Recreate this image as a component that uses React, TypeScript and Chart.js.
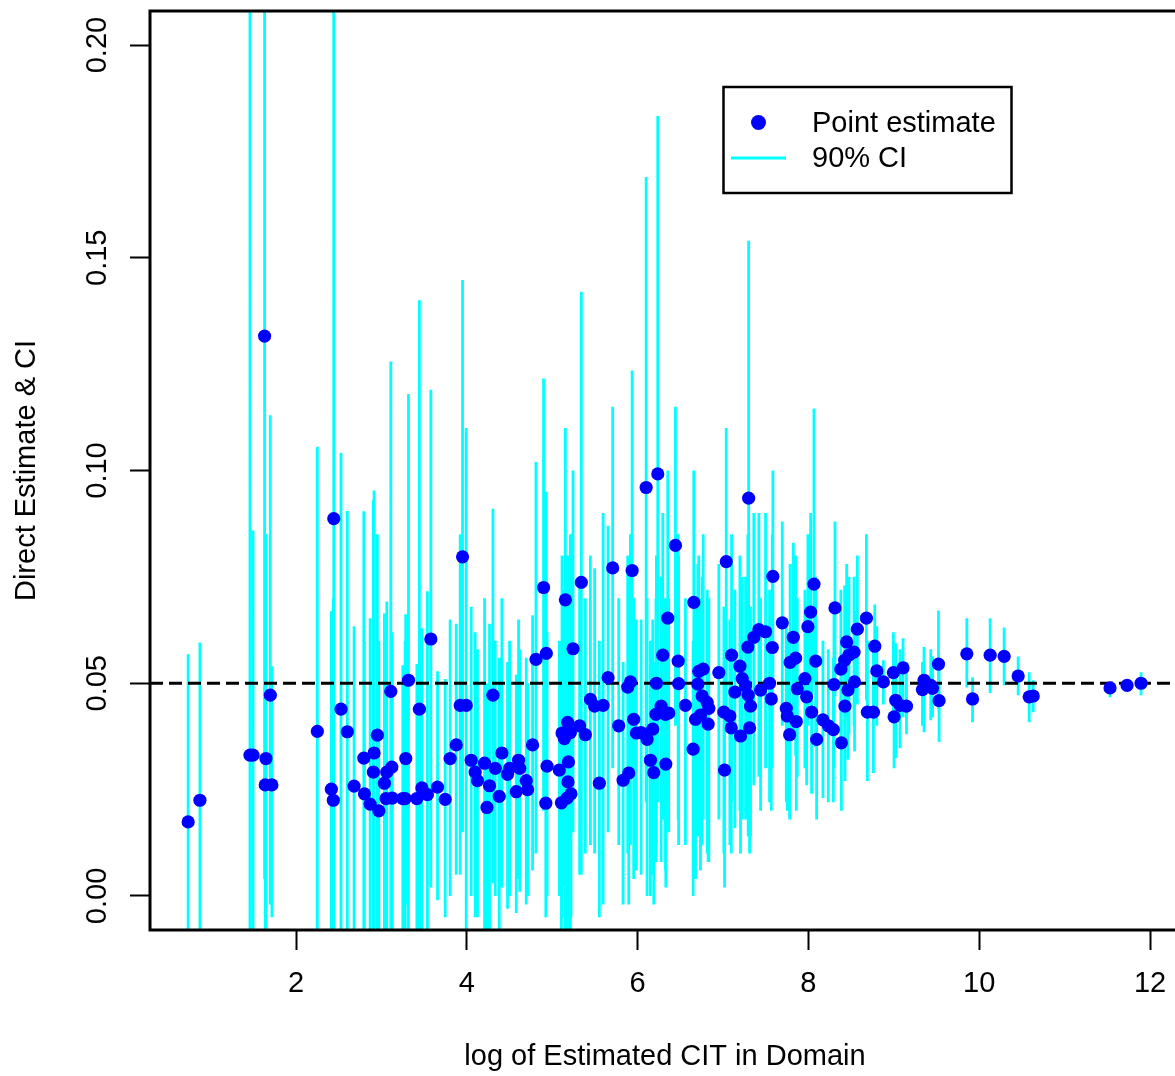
import React, { useEffect, useRef } from 'react';
import { Chart, registerables } from 'chart.js';

Chart.register(...registerables);

// ---- data ----
const logCIT = [
  0.737, 0.875, 1.461, 1.497, 1.632, 1.648, 1.699, 1.640, 1.718, 2.250,
  2.442, 2.414, 2.437, 2.527, 2.601, 2.680, 2.794, 2.801, 2.868, 2.906,
  2.914, 2.953, 2.970, 3.035, 3.063, 3.122, 3.110, 3.055, 3.128, 3.251,
  3.278, 3.285, 3.317, 3.445, 3.415, 3.474, 3.539, 3.579, 3.657, 3.747,
  3.805, 3.876, 3.950, 3.923, 3.993, 4.051, 4.098, 4.125, 4.208, 4.236,
  4.266, 4.306, 4.333, 4.380, 4.411, 4.477, 4.501, 4.579, 4.606, 4.620,
  4.696, 4.712, 4.770, 4.810, 4.899, 4.931, 4.940, 4.925, 5.083, 5.115,
  5.142, 5.154, 5.181, 5.213, 5.190, 5.185, 5.108, 5.174, 5.220, 5.244,
  5.321, 5.341, 5.388, 5.447, 5.497, 5.596, 5.552, 5.654, 5.708, 5.779,
  5.830, 5.896, 5.884, 5.916, 5.936, 5.954, 5.986, 6.041, 6.100, 6.111,
  6.150, 6.189, 6.177, 6.220, 6.236, 6.215, 6.275, 6.326, 6.295, 6.353,
  6.330, 6.443, 6.475, 6.480, 6.560, 6.658, 6.650, 6.716, 6.768, 6.705,
  6.756, 6.815, 6.834, 6.736, 6.678, 6.826, 6.951, 7.038, 7.018, 7.010,
  7.080, 7.097, 7.100, 7.198, 7.139, 7.205, 7.225, 7.264, 7.295, 7.322,
  7.311, 7.300, 7.291, 7.361, 7.420, 7.498, 7.440, 7.545, 7.565, 7.577,
  7.584, 7.694, 7.741, 7.753, 7.858, 7.780, 7.786, 7.850, 7.823, 7.870,
  7.959, 7.979, 7.994, 8.026, 8.065, 8.085, 8.037, 8.096, 8.170, 8.233,
  8.292, 8.311, 8.299, 8.386, 8.428, 8.448, 8.380, 8.424, 8.475, 8.534,
  8.463, 8.540, 8.573, 8.679, 8.691, 8.761, 8.777, 8.801, 8.878, 8.995,
  9.108, 9.022, 9.148, 9.073, 9.003, 9.354, 9.335, 9.433, 9.453, 9.523,
  9.530, 9.855, 9.922, 10.128, 10.292, 10.456, 10.585, 10.632, 11.532, 11.731,
  11.895, 6.364,
];

const estimate = [
  0.0174, 0.0225, 0.0331, 0.0331, 0.1316, 0.0323, 0.0472, 0.0261, 0.0261, 0.0387,
  0.0887, 0.0251, 0.0225, 0.0439, 0.0386, 0.0258, 0.0324, 0.0240, 0.0216, 0.0291,
  0.0336, 0.0378, 0.0200, 0.0265, 0.0291, 0.0303, 0.0481, 0.0229, 0.0230, 0.0229,
  0.0229, 0.0323, 0.0507, 0.0439, 0.0229, 0.0254, 0.0238, 0.0604, 0.0256, 0.0227,
  0.0323, 0.0355, 0.0797, 0.0448, 0.0448, 0.0319, 0.0291, 0.0271, 0.0312, 0.0208,
  0.0259, 0.0472, 0.0300, 0.0234, 0.0336, 0.0286, 0.0300, 0.0245, 0.0319, 0.0300,
  0.0271, 0.0250, 0.0355, 0.0556, 0.0725, 0.0570, 0.0305, 0.0218, 0.0296, 0.0383,
  0.0370, 0.0696, 0.0408, 0.0384, 0.0315, 0.0268, 0.0219, 0.0230, 0.0240, 0.0581,
  0.0400, 0.0737, 0.0379, 0.0462, 0.0446, 0.0448, 0.0265, 0.0513, 0.0771, 0.0400,
  0.0272, 0.0289, 0.0491, 0.0503, 0.0765, 0.0415, 0.0383, 0.0384, 0.0960, 0.0368,
  0.0319, 0.0290, 0.0392, 0.0500, 0.0992, 0.0427, 0.0446, 0.0427, 0.0566, 0.0653,
  0.0310, 0.0824, 0.0552, 0.0499, 0.0448, 0.0690, 0.0345, 0.0528, 0.0533, 0.0498,
  0.0470, 0.0455, 0.0441, 0.0425, 0.0415, 0.0404, 0.0525, 0.0786, 0.0296, 0.0432,
  0.0423, 0.0395, 0.0566, 0.0540, 0.0479, 0.0376, 0.0511, 0.0494, 0.0472, 0.0446,
  0.0395, 0.0935, 0.0585, 0.0608, 0.0626, 0.0621, 0.0484, 0.0500, 0.0463, 0.0584,
  0.0751, 0.0642, 0.0441, 0.0423, 0.0410, 0.0379, 0.0549, 0.0559, 0.0608, 0.0487,
  0.0511, 0.0468, 0.0633, 0.0667, 0.0733, 0.0552, 0.0432, 0.0368, 0.0414, 0.0400,
  0.0391, 0.0677, 0.0497, 0.0360, 0.0446, 0.0597, 0.0533, 0.0554, 0.0566, 0.0573,
  0.0484, 0.0503, 0.0627, 0.0653, 0.0432, 0.0432, 0.0587, 0.0529, 0.0503, 0.0525,
  0.0536, 0.0460, 0.0446, 0.0448, 0.0421, 0.0507, 0.0485, 0.0495, 0.0488, 0.0545,
  0.0459, 0.0569, 0.0463, 0.0566, 0.0563, 0.0517, 0.0468, 0.0470, 0.0489, 0.0495,
  0.0500, 0.0430,
];

const ciLower = [
  -0.022, -0.015, -0.100, -0.020, 0.004, -0.020, -0.002, -0.020, -0.005, -0.030,
  -0.020, -0.020, -0.020, -0.020, -0.015, -0.012, -0.025, -0.015, -0.020, -0.030,
  -0.030, -0.010, -0.020, -0.013, -0.011, -0.005, -0.030, -0.010, -0.012, -0.008,
  -0.014, -0.002, -0.015, -0.030, -0.010, -0.010, -0.015, 0.002, -0.001, -0.005,
  0.000, 0.005, 0.015, 0.005, -0.010, 0.000, -0.005, -0.005, -0.008, -0.010,
  -0.008, 0.003, 0.000, -0.008, 0.002, -0.003, 0.000, -0.004, 0.004, 0.001,
  -0.002, 0.000, 0.006, 0.010, 0.020, 0.018, 0.000, -0.005, 0.000, -0.005,
  0.002, -0.010, -0.010, -0.010, -0.010, -0.010, -0.010, -0.008, -0.005, 0.015,
  0.005, 0.005, 0.010, 0.012, 0.010, -0.002, -0.005, 0.015, 0.030, 0.012,
  -0.002, -0.002, 0.010, 0.012, 0.028, 0.004, 0.006, 0.005, 0.022, 0.000,
  0.000, -0.002, 0.005, 0.012, 0.022, 0.008, 0.008, 0.006, 0.018, 0.022,
  0.002, 0.040, 0.018, 0.012, 0.012, 0.030, 0.000, 0.016, 0.018, 0.014,
  0.012, 0.010, 0.008, 0.006, 0.004, 0.008, 0.018, 0.040, 0.002, 0.010,
  0.012, 0.010, 0.022, 0.020, 0.016, 0.010, 0.018, 0.018, 0.014, 0.014,
  0.010, 0.032, 0.024, 0.026, 0.028, 0.030, 0.020, 0.022, 0.020, 0.030,
  0.050, 0.040, 0.022, 0.020, 0.020, 0.018, 0.032, 0.033, 0.038, 0.028,
  0.030, 0.026, 0.040, 0.045, 0.050, 0.035, 0.024, 0.018, 0.023, 0.022,
  0.022, 0.047, 0.030, 0.020, 0.027, 0.042, 0.035, 0.037, 0.038, 0.040,
  0.032, 0.034, 0.045, 0.046, 0.027, 0.0289, 0.045, 0.040, 0.045, 0.043,
  0.042, 0.0324, 0.038, 0.0347, 0.030, 0.0385, 0.040, 0.0413, 0.042, 0.044,
  0.0362, 0.049, 0.0408, 0.0477, 0.0495, 0.0472, 0.0408, 0.0432, 0.0467, 0.0480,
  0.0472, 0.015,
];

const ciUpper = [
  0.0568, 0.0596, 0.300, 0.0859, 0.300, 0.085, 0.113, 0.070, 0.054, 0.1056,
  0.300, 0.0669, 0.070, 0.1042, 0.0905, 0.0634, 0.0904, 0.060, 0.0653, 0.093,
  0.0953, 0.085, 0.060, 0.0664, 0.0692, 0.062, 0.1256, 0.055, 0.058, 0.0542,
  0.060, 0.0662, 0.118, 0.140, 0.0545, 0.0629, 0.0716, 0.119, 0.0528, 0.051,
  0.065, 0.064, 0.1448, 0.085, 0.110, 0.068, 0.062, 0.058, 0.070, 0.050,
  0.064, 0.091, 0.060, 0.056, 0.070, 0.055, 0.060, 0.052, 0.065, 0.058,
  0.056, 0.050, 0.066, 0.102, 0.1216, 0.095, 0.062, 0.048, 0.060, 0.080,
  0.072, 0.110, 0.080, 0.085, 0.065, 0.060, 0.050, 0.055, 0.058, 0.100,
  0.075, 0.142, 0.070, 0.080, 0.077, 0.090, 0.060, 0.087, 0.115, 0.070,
  0.055, 0.060, 0.080, 0.085, 0.1235, 0.070, 0.065, 0.065, 0.169, 0.070,
  0.060, 0.055, 0.065, 0.080, 0.1833, 0.070, 0.075, 0.070, 0.090, 0.100,
  0.055, 0.115, 0.085, 0.080, 0.070, 0.100, 0.060, 0.080, 0.085, 0.078,
  0.075, 0.072, 0.070, 0.070, 0.068, 0.065, 0.078, 0.110, 0.050, 0.068,
  0.065, 0.062, 0.085, 0.080, 0.072, 0.060, 0.075, 0.075, 0.072, 0.068,
  0.060, 0.154, 0.085, 0.090, 0.090, 0.090, 0.070, 0.072, 0.068, 0.085,
  0.100, 0.088, 0.065, 0.062, 0.060, 0.058, 0.078, 0.080, 0.083, 0.070,
  0.072, 0.068, 0.085, 0.090, 0.1146, 0.075, 0.062, 0.055, 0.060, 0.058,
  0.056, 0.088, 0.068, 0.052, 0.062, 0.078, 0.072, 0.073, 0.075, 0.075,
  0.065, 0.067, 0.080, 0.085, 0.060, 0.058, 0.0685, 0.0634, 0.0554, 0.062,
  0.0606, 0.0594, 0.055, 0.058, 0.055, 0.0585, 0.055, 0.058, 0.0563, 0.0671,
  0.055, 0.0653, 0.0514, 0.0653, 0.0631, 0.0563, 0.0526, 0.0507, 0.0502, 0.0505,
  0.0526, 0.070,
];

const TARGET = 0.05;
const X_TICKS = [2, 4, 6, 8, 10, 12];
const Y_TICKS = [0, 0.05, 0.1, 0.15, 0.2];
const Y_TICK_LABELS = ['0.00', '0.05', '0.10', '0.15', '0.20'];
const X_MIN = 0.2904;
const X_MAX = 12.351;
const Y_MIN = -0.008;
const Y_MAX = 0.208;

const X_TITLE = 'log of Estimated CIT in Domain';
const Y_TITLE = 'Direct Estimate & CI';
const LEGEND_POINT = 'Point estimate';
const LEGEND_CI = '90% CI';

const FONT = '"Liberation Sans", Arial, Helvetica, sans-serif';
const POINT_COLOR = '#0000FF';
const CI_COLOR = '#00FFFF';

const framePlugin = {
  id: 'frame',
  afterDraw(chart: any) {
    const { ctx, chartArea: a, scales } = chart;
    ctx.save();
    // plot box
    ctx.strokeStyle = '#000';
    ctx.lineWidth = 3;
    ctx.strokeRect(a.left, a.top, a.right - a.left, a.bottom - a.top);
    // rotated y tick labels
    ctx.fillStyle = '#000';
    ctx.font = `29px ${FONT}`;
    ctx.textAlign = 'center';
    ctx.textBaseline = 'middle';
    Y_TICKS.forEach((v, i) => {
      const y = scales.y.getPixelForValue(v);
      ctx.save();
      ctx.translate(98, y);
      ctx.rotate(-Math.PI / 2);
      ctx.fillText(Y_TICK_LABELS[i], 0, 0);
      ctx.restore();
    });
    // legend
    ctx.lineWidth = 2.5;
    ctx.strokeStyle = '#000';
    ctx.strokeRect(723.5, 87, 288, 106);
    ctx.fillStyle = POINT_COLOR;
    ctx.beginPath();
    ctx.arc(758.5, 122.5, 7.5, 0, Math.PI * 2);
    ctx.fill();
    ctx.strokeStyle = CI_COLOR;
    ctx.lineWidth = 3;
    ctx.beginPath();
    ctx.moveTo(731, 158);
    ctx.lineTo(786, 158);
    ctx.stroke();
    ctx.fillStyle = '#000';
    ctx.textAlign = 'left';
    ctx.textBaseline = 'middle';
    ctx.fillText(LEGEND_POINT, 812, 124);
    ctx.fillText(LEGEND_CI, 812, 159);
    ctx.restore();
  },
};

export default function App() {
  const canvasRef = useRef<HTMLCanvasElement | null>(null);

  useEffect(() => {
    const canvas = canvasRef.current;
    if (!canvas) return;

    const ciData: any[] = [];
    logCIT.forEach((x, i) => {
      ciData.push({ x, y: ciLower[i] });
      ciData.push({ x, y: ciUpper[i] });
      ciData.push({ x, y: null });
    });
    const pointData = logCIT.map((x, i) => ({ x, y: estimate[i] }));
    const refData = [
      { x: X_MIN, y: TARGET },
      { x: X_MAX, y: TARGET },
    ];

    const chart = new Chart(canvas, {
      type: 'scatter',
      data: {
        datasets: [
          {
            label: LEGEND_POINT,
            data: pointData,
            order: 0,
            pointRadius: 6.6,
            pointHoverRadius: 6.6,
            pointBackgroundColor: POINT_COLOR,
            pointBorderWidth: 0,
            pointBorderColor: POINT_COLOR,
            showLine: false,
          },
          {
            label: 'reference',
            data: refData,
            order: 1,
            showLine: true,
            borderColor: '#000',
            borderWidth: 3,
            borderDash: [13, 6],
            pointRadius: 0,
          },
          {
            label: LEGEND_CI,
            data: ciData,
            order: 2,
            showLine: true,
            spanGaps: false,
            borderColor: CI_COLOR,
            borderWidth: 2.8,
            pointRadius: 0,
            pointHoverRadius: 0,
          },
        ],
      },
      options: {
        responsive: false,
        animation: false,
        devicePixelRatio: 1,
        events: [],
        layout: { padding: { top: 11, right: 10, left: 0, bottom: 0 } },
        plugins: {
          legend: { display: false },
          tooltip: { enabled: false },
        },
        scales: {
          x: {
            type: 'linear',
            min: X_MIN,
            max: X_MAX,
            afterBuildTicks: (s: any) => {
              s.ticks = X_TICKS.map((v) => ({ value: v }));
            },
            afterFit: (s: any) => {
              s.height = 146;
            },
            border: { display: false },
            grid: {
              drawOnChartArea: false,
              drawTicks: true,
              tickLength: 20,
              tickColor: '#000',
              tickWidth: 2,
            },
            ticks: {
              color: '#000',
              font: { family: FONT, size: 29 },
              padding: 17,
              maxRotation: 0,
              minRotation: 0,
              autoSkip: false,
              callback: (v: any) => String(v),
            },
            title: {
              display: true,
              text: X_TITLE,
              color: '#000',
              font: { family: FONT, size: 29 },
              padding: { top: 0, bottom: 2 },
            },
          },
          y: {
            type: 'linear',
            min: Y_MIN,
            max: Y_MAX,
            afterBuildTicks: (s: any) => {
              s.ticks = Y_TICKS.map((v) => ({ value: v }));
            },
            afterFit: (s: any) => {
              s.width = 150;
            },
            border: { display: false },
            grid: {
              drawOnChartArea: false,
              drawTicks: true,
              tickLength: 20,
              tickColor: '#000',
              tickWidth: 2,
            },
            ticks: { display: false },
            title: {
              display: true,
              text: Y_TITLE,
              color: '#000',
              font: { family: FONT, size: 29 },
              padding: { top: 10, bottom: 0 },
            },
          },
        },
      },
      plugins: [framePlugin],
    } as any);

    return () => chart.destroy();
  }, []);

  return (
    <div
      style={{
        position: 'fixed',
        left: 0,
        top: 0,
        width: 1175,
        height: 1076,
        overflow: 'hidden',
        background: '#fff',
      }}
    >
      <canvas ref={canvasRef} width={1190} height={1076} style={{ display: 'block' }} />
    </div>
  );
}
